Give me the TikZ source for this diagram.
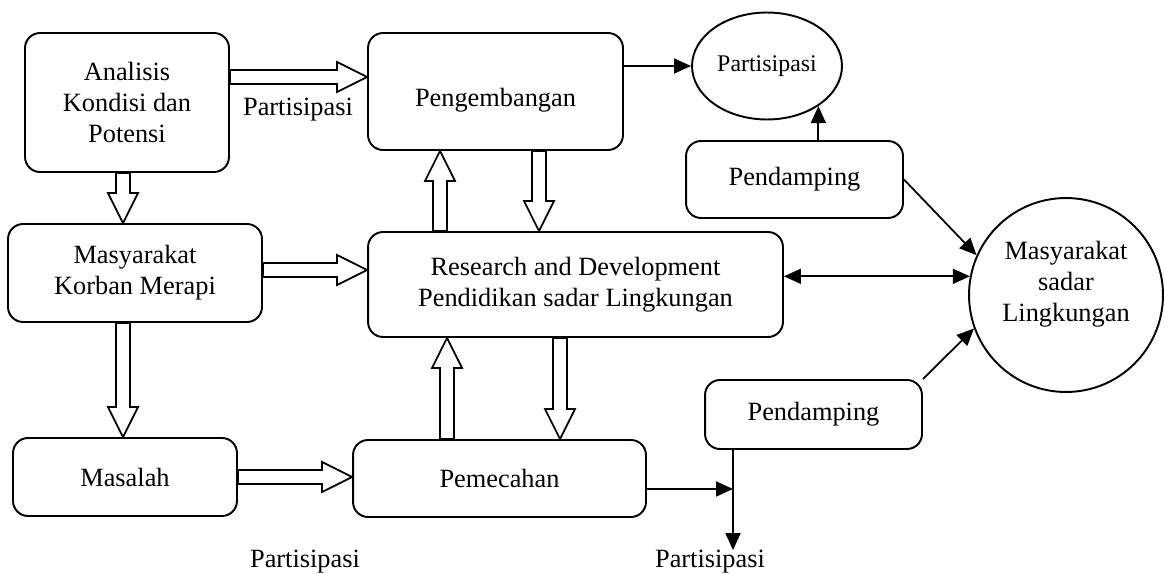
\documentclass[tikz,border=0pt]{standalone}
\usepackage{fontspec}
\setmainfont{Liberation Serif}
\usepackage{tikz}
\usetikzlibrary{calc,shapes.geometric,arrows.meta}

\newcommand{\fatarrow}[2]{%
\coordinate (fa-s) at (#1);
\coordinate (fa-e) at (#2);
\coordinate (fa-c) at ($(fa-e)!0.6cm!(fa-s)$);
\draw[fatline] ($(fa-s)!0.14cm!90:(fa-e)$) -- ($(fa-c)!0.14cm!-90:(fa-s)$) -- ($(fa-c)!0.3cm!-90:(fa-s)$) -- (fa-e)
  -- ($(fa-c)!0.3cm!90:(fa-s)$) -- ($(fa-c)!0.14cm!90:(fa-s)$) -- ($(fa-s)!0.14cm!-90:(fa-e)$) -- cycle;
}

\begin{document}
\begin{tikzpicture}[x=0.02cm,y=-0.02cm,
  box/.style={draw,line width=1.1pt,rounded corners=0.3cm,align=center,inner sep=0pt,
    font=\fontsize{15}{17.6}\selectfont},
  label/.style={inner sep=0pt,align=center,font=\fontsize{15}{17.6}\selectfont},
  fatline/.style={draw,fill=white,line width=1pt,line join=miter},
  thinarrow/.style={line width=1pt,-{Triangle[length=0.34cm,width=0.3cm]}}]
\useasboundingbox (0,0) rectangle (1165,574);

% boxes
\node[box,minimum width=4.08cm,minimum height=2.78cm] (ana) at (127,102.5) {Analisis\\Kondisi dan\\Potensi};
\node[box,minimum width=5.08cm,minimum height=1.96cm] (korban) at (135,273) {Masyarakat\\Korban Merapi};
\node[box,minimum width=4.48cm,minimum height=1.56cm] (masalah) at (125,477) {Masalah};
\node[box,minimum width=5.86cm,minimum height=1.54cm] (pemecahan) at (499.5,478.5) {Pemecahan};
\node[box,minimum width=5.10cm,minimum height=2.34cm] (peng) at (495.5,91.5) {};
\node[label] (pengtxt) at ($(peng)+(0,9)$) {Pengembangan};
\node[box,minimum width=8.30cm,minimum height=2.10cm] (rnd) at (575.5,284.5) {Research and Development\\Pendidikan sadar Lingkungan};
\node[box,minimum width=4.34cm,minimum height=1.54cm] (pend1) at (794.5,179.5) {Pendamping};
\node[box,minimum width=4.34cm,minimum height=1.38cm] (pend2) at (813.5,414.5) {Pendamping};
\node[draw,ellipse,line width=1.1pt,inner sep=0pt,minimum width=3cm,minimum height=2.14cm,
  font=\fontsize{13.6}{16}\selectfont] (ell) at (767,66) {Partisipasi};
\node[draw,circle,line width=1.1pt,inner sep=0pt,minimum size=3.88cm] (mas) at (1066,295) {};
\node[label] (mastxt) at ($(mas)+(0,-11)$) {Masyarakat\\sadar\\Lingkungan};

% labels
\node[label] (lblA) at (298,110) {Partisipasi};
\node[label] (lblB) at (305,562) {Partisipasi};
\node[label] (lblC) at (710,562) {Partisipasi};

% hollow arrows
\fatarrow{$(ana.east)+(0,-25.5)$}{$(peng.west)+(0,-14.5)$}
\fatarrow{$(ana.south)+(-4,0)$}{$(korban.north)+(-12,0)$}
\fatarrow{$(korban.east)+(0,-3)$}{$(rnd.west)+(0,-14.5)$}
\fatarrow{$(korban.south)+(-12,0)$}{$(masalah.north)+(-2,0)$}
\fatarrow{masalah.east}{$(pemecahan.west)+(0,-1.5)$}
\fatarrow{$(pemecahan.north)+(-52.5,0)$}{$(rnd.south)+(-128.5,0)$}
\fatarrow{$(rnd.south)+(-15.5,0)$}{$(pemecahan.north)+(60.5,0)$}
\fatarrow{$(rnd.north)+(-135.5,0)$}{$(peng.south)+(-55.5,0)$}
\fatarrow{$(peng.south)+(43.5,0)$}{$(rnd.north)+(-36.5,0)$}

% thin arrows
\coordinate (jn) at (733,489);
\draw[thinarrow] (peng.east|-ell.west) -- (ell.west);
\draw[thinarrow] (pend1.north-|ell.-38) -- (ell.-38);
\draw[thinarrow] (pend1.east) -- (mas.156);
\draw[thinarrow,{Triangle[length=0.34cm,width=0.3cm]}-{Triangle[length=0.34cm,width=0.3cm]}] (rnd.east|-mas.169) -- (mas.169);
\draw[thinarrow] (pend2.north east) -- (mas.200);
\draw[thinarrow] (pemecahan.east|-jn) -- (jn);
\draw[thinarrow] (pend2.south-|jn) -- (jn|-lblC.north);
\end{tikzpicture}
\end{document}
